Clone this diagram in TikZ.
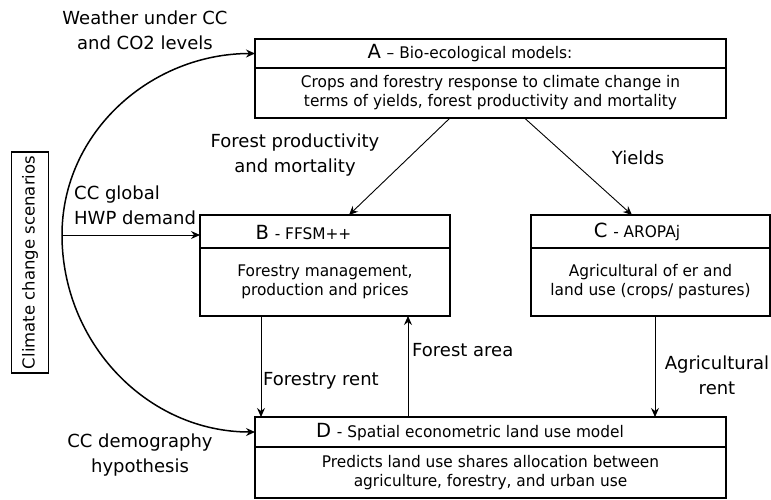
\documentclass[tikz,border=0pt]{standalone}
\usepackage{fontspec}
\setmainfont{DejaVu Sans}
\newfontfamily\narrowfont[FakeStretch=0.96]{DejaVu Sans}
\usetikzlibrary{positioning,arrows.meta}
\newcommand\lblfont{\fontsize{18}{25}\selectfont}
\newcommand\sidefont{\fontsize{16.5}{20}\selectfont}
\newcommand\bodyfont{\narrowfont\fontsize{16}{19}\selectfont}
\newcommand\capfont{\fontsize{19.5}{19}\selectfont}
\newcommand\hdrfont{\narrowfont\fontsize{16}{19}\selectfont}
\begin{document}
\begin{tikzpicture}[x=1pt,y=-1pt,font=\lblfont,
	box/.style={draw, line width=1.1pt, inner sep=0pt, outer sep=0pt, align=center, font=\bodyfont},
	lbl/.style={align=center, inner sep=0pt},
	link/.style={-{Stealth[length=9pt,width=8pt,inset=3pt]}, line width=0.9pt},
	feed/.style={link, line width=1.5pt}]
	\useasboundingbox (0,0) rectangle (771,499);
	% Kaesten
	\node[box, minimum width=471, minimum height=29] (Ahead) at (490.5,53.5) {};
	\node[box, minimum width=471, minimum height=50, below=0pt of Ahead] (Abody) {Crops and forestry response to climate change in\\terms of yields, forest productivity and mortality};
	\node[box, minimum width=250, minimum height=33] (Bhead) at (325,231.5) {};
	\node[box, minimum width=250, minimum height=68, below=0pt of Bhead] (Bbody) {Forestry management,\\production and prices};
	\node[box, minimum width=239, minimum height=33] (Chead) at (650.5,231.5) {};
	\node[box, minimum width=239, minimum height=68, below=0pt of Chead] (Cbody) {Agricultural of er and\\land use (crops/ pastures)};
	\node[box, minimum width=471, minimum height=30] (Dhead) at (490.5,432) {};
	\node[box, minimum width=471, minimum height=51, below=0pt of Dhead] (Dbody) {Predicts land use shares allocation between\\agriculture, forestry, and urban use};
	\node[box, font=\sidefont, rotate=90, minimum width=221, minimum height=37] (scen) at (30,262.5) {Climate change scenarios};
	% Titel
	\node[lbl] (Atitle) at (470,53) {{\capfont A} \hdrfont – Bio-ecological models:};
	\node[lbl] (Btitle) at (303.5,232) {{\capfont B} \hdrfont - FFSM++};
	\node[lbl] (Ctitle) at (637,232) {{\capfont C} \hdrfont - AROPAj};
	\node[lbl] (Dtitle) at (470,432) {{\capfont D} \hdrfont - Spatial econometric land use model};
	% Beschriftungen
	\node[lbl] (weather) at (145,30) {Weather under CC\\and CO2 levels};
	\node[lbl, anchor=west, align=left] (hwp) at (74,205) {CC global\\HWP demand};
	\node[lbl] (prod) at (295,155) {Forest productivity\\and mortality};
	\node[lbl] (yields) at (638,158) {Yields};
	\node[lbl, anchor=west] (frent) at (263,381) {Forestry rent};
	\node[lbl, anchor=west] (farea) at (412,350) {Forest area};
	\node[lbl] (arent) at (717,375) {Agricultural\\rent};
	\node[lbl] (demo) at (140,455) {CC demography\\hypothesis};
	% Pfeile
	\coordinate (hub) at (62,235);
	\draw[feed] (hub) to[out=90,in=180] (Ahead.west);
	\draw[feed] (hub) to[out=-90,in=180] (Dhead.west);
	\draw[link] (hub) -- (hub -| Bhead.west);
	\draw[link] ([xshift=-40.5]Abody.south) -- ([xshift=24]Bhead.north);
	\draw[link] ([xshift=34]Abody.south) -- ([xshift=-18.5]Chead.north);
	\draw[link] ([xshift=-64]Bbody.south) -- ([xshift=-64]Bbody.south |- Dhead.north);
	\draw[link] ([xshift=83]Bbody.south |- Dhead.north) -- ([xshift=83]Bbody.south);
	\draw[link] ([xshift=4.5]Cbody.south) -- ([xshift=4.5]Cbody.south |- Dhead.north);
\end{tikzpicture}
\end{document}
